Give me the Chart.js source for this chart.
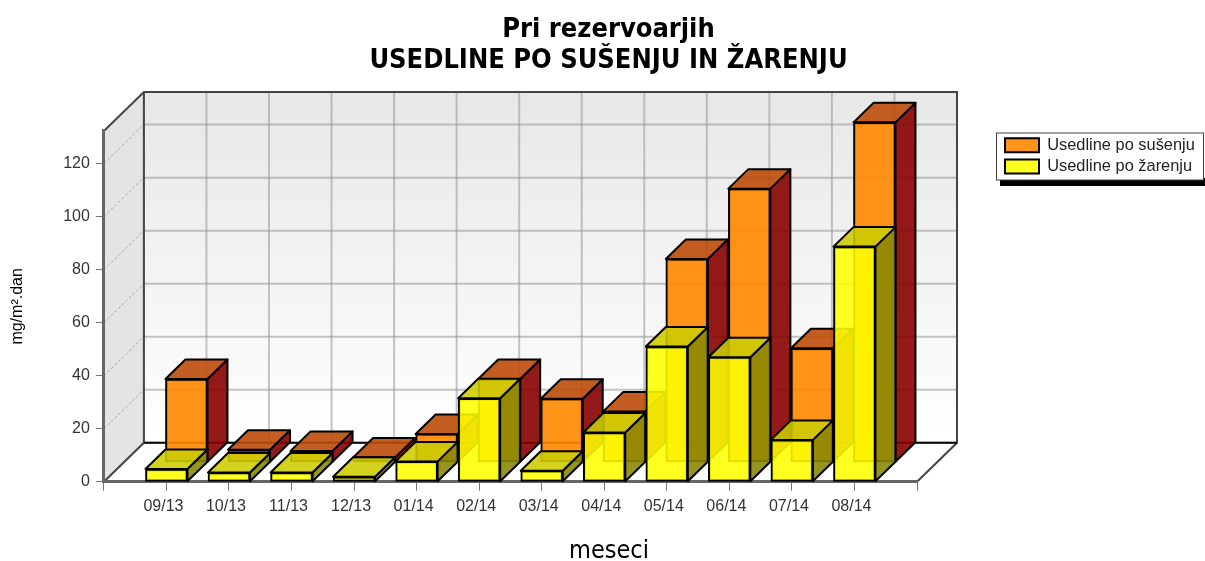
<!DOCTYPE html>
<html>
<head>
<meta charset="utf-8">
<style>
  html, body { margin: 0; padding: 0; background: #fff; overflow: hidden; }
  #wrap { width: 1205px; height: 561px; }
</style>
<script src="https://cdn.jsdelivr.net/npm/chart.js@4"></script>
</head>
<body>
<div id="wrap"><canvas id="chart" width="1205" height="561"></canvas></div>
<script>
const categories = ['', '09/13', '10/13', '11/13', '12/13', '01/14', '02/14', '03/14', '04/14', '05/14', '06/14', '07/14', '08/14', ''];
const susenje = [null, 31.4, 4.7, 4.3, 1.8, 10.7, 31.4, 24, 19.2, 76.7, 103.2, 43, 128.2, null];
const zarenje = [null, 4.8, 3.5, 3.5, 1.9, 7.7, 31.5, 4.2, 18.6, 51, 47, 15.8, 88.7, null];

// depth of the fake 3D box
const DEPTH_X = 40;
const DEPTH_Y = -39;

function face(ctx, pts, fill, stroke, width) {
    ctx.beginPath();
    pts.forEach((p, i) => i ? ctx.lineTo(p[0], p[1]) : ctx.moveTo(p[0], p[1]));
    ctx.closePath();
    if (fill) { ctx.fillStyle = fill; ctx.fill(); }
    if (stroke) { ctx.strokeStyle = stroke; ctx.lineWidth = width || 1; ctx.stroke(); }
}

const threeDPlugin = {
    id: 'threeD',
    // title, subtitle and legend don't sit where the layout engine wants them
    afterLayout(chart) {
        chart.titleBlock.left = 0;
        chart.titleBlock.right = 1217;
        const sub = chart.boxes.find(b => b.options && b.options.text === 'meseci');
        sub.left = 0;
        sub.right = 1218;
        sub.top += 5;
        sub.bottom += 5;
        const lg = chart.legend;
        lg.left = 1000;
        lg.right = lg.left + lg.width;
        lg.top = 132;
        lg.bottom = lg.top + lg.height;
    },
    // legend frame, walls, floor and grid: all under the axes and the bars
    beforeDraw(chart) {
        const { ctx, chartArea: a, scales } = chart;
        const bx = DEPTH_X, by = DEPTH_Y;
        ctx.save();

        ctx.fillStyle = '#000';
        ctx.fillRect(1000, 178, 205, 8);
        ctx.fillStyle = '#fff';
        ctx.strokeStyle = '#444';
        ctx.lineWidth = 1;
        ctx.fillRect(996.5, 133, 207, 47);
        ctx.strokeRect(996.5, 133, 207, 47);

        const grad = ctx.createLinearGradient(0, a.top + by, 0, a.bottom + by);
        grad.addColorStop(0, '#e7e7e7');
        grad.addColorStop(1, '#ffffff');
        face(ctx, [[a.left + bx, a.top + by], [a.right + bx, a.top + by], [a.right + bx, a.bottom + by], [a.left + bx, a.bottom + by]], grad);
        face(ctx, [[a.left, a.top], [a.left + bx, a.top + by], [a.left + bx, a.bottom + by], [a.left, a.bottom]], '#e4e4e4');
        face(ctx, [[a.left, a.bottom], [a.left + bx, a.bottom + by], [a.right + bx, a.bottom + by], [a.right, a.bottom]], '#ffffff');

        // back wall grid
        ctx.lineWidth = 2;
        ctx.strokeStyle = 'rgba(150,150,150,0.55)';
        scales.x.ticks.forEach((t, i) => {
            const x = scales.x.getPixelForTick(i) + bx;
            ctx.beginPath(); ctx.moveTo(x, a.top + by); ctx.lineTo(x, a.bottom + by); ctx.stroke();
        });
        scales.y.ticks.forEach((t, i) => {
            const y = scales.y.getPixelForTick(i) + by;
            ctx.beginPath(); ctx.moveTo(a.left + bx, y); ctx.lineTo(a.right + bx, y); ctx.stroke();
        });
        // side wall grid, dotted in the original
        ctx.strokeStyle = '#aaa';
        ctx.lineWidth = 1;
        ctx.setLineDash([3, 2]);
        scales.y.ticks.forEach((t, i) => {
            const y = scales.y.getPixelForTick(i);
            ctx.beginPath(); ctx.moveTo(a.left, y); ctx.lineTo(a.left + bx, y + by); ctx.stroke();
        });
        ctx.setLineDash([]);

        // frame
        ctx.strokeStyle = '#444';
        ctx.lineWidth = 2;
        ctx.beginPath();
        ctx.moveTo(a.left, a.top);
        ctx.lineTo(a.left + bx, a.top + by);
        ctx.lineTo(a.right + bx, a.top + by);
        ctx.lineTo(a.right + bx, a.bottom + by);
        ctx.lineTo(a.right, a.bottom);
        ctx.moveTo(a.left + bx, a.top + by);
        ctx.lineTo(a.left + bx, a.bottom + by);
        ctx.lineTo(a.left, a.bottom);
        ctx.stroke();
        ctx.strokeStyle = '#000';
        ctx.beginPath();
        ctx.moveTo(a.left + bx, a.bottom + by);
        ctx.lineTo(a.right + bx, a.bottom + by);
        ctx.stroke();
        ctx.restore();
    },
    // side and top faces go under the front face the library draws
    beforeDatasetDraw(chart, args) {
        const ds = chart.data.datasets[args.index];
        const { ctx } = chart;
        ctx.save();
        ctx.translate(ds.shiftX, ds.shiftY);
        ctx.lineJoin = 'round';
        args.meta.data.forEach((el, i) => {
            if (ds.data[i] === null) return;
            const l = el.x - el.width / 2, r = el.x + el.width / 2;
            const dx = DEPTH_X / 2, dy = DEPTH_Y / 2;
            face(ctx, [[r, el.y], [r + dx, el.y + dy], [r + dx, el.base + dy], [r, el.base]], ds.sideColor, '#000', 2);
            face(ctx, [[l, el.y], [l + dx, el.y + dy], [r + dx, el.y + dy], [r, el.y]], ds.topColor, '#000', 2);
        });
    },
    afterDatasetDraw(chart) {
        chart.ctx.restore();
    }
};

new Chart(document.getElementById('chart'), {
    type: 'bar',
    plugins: [threeDPlugin],
    data: {
        labels: categories,
        datasets: [
            {
                label: 'Usedline po sušenju',
                data: susenje,
                order: 2,
                clip: false,
                shiftX: DEPTH_X / 2,
                shiftY: DEPTH_Y / 2,
                backgroundColor: 'rgba(255,136,0,0.9)',
                sideColor: 'rgba(136,0,0,0.9)',
                topColor: 'rgba(190,75,10,0.9)'
            },
            {
                label: 'Usedline po žarenju',
                data: zarenje,
                order: 1,
                clip: false,
                shiftX: 0,
                shiftY: 0,
                backgroundColor: 'rgba(255,255,0,0.88)',
                sideColor: 'rgba(136,136,0,0.88)',
                topColor: 'rgba(204,204,0,0.88)'
            }
        ]
    },
    options: {
        responsive: false,
        animation: false,
        layout: { padding: { left: 8, right: 288, top: 14, bottom: 0 } },
        elements: {
            bar: { borderColor: '#000', borderWidth: 2, borderSkipped: false }
        },
        datasets: { bar: { barThickness: 42, grouped: false } },
        plugins: {
            tooltip: { enabled: false },
            title: {
                display: true,
                text: ['Pri rezervoarjih', 'USEDLINE PO SUŠENJU IN ŽARENJU'],
                color: '#000',
                font: { family: '"DejaVu Sans Condensed", "DejaVu Sans"', size: 27, weight: 'bold', lineHeight: 1.17 },
                padding: { top: 0, bottom: 53.8 }
            },
            subtitle: {
                display: true,
                position: 'bottom',
                text: 'meseci',
                color: '#000',
                font: { family: '"DejaVu Sans Condensed", "DejaVu Sans"', size: 25, weight: 'normal' },
                padding: { top: 9, bottom: 0 }
            },
            legend: {
                display: true,
                position: 'chartArea',
                align: 'start',
                labels: {
                    color: '#222',
                    boxWidth: 34,
                    boxHeight: 14,
                    font: { family: '"Liberation Sans"', size: 16.4 },
                    padding: 5,
                    sort: (a, b) => a.datasetIndex - b.datasetIndex
                }
            }
        },
        scales: {
            x: {
                offset: false,
                border: { color: '#666', width: 3 },
                grid: { offset: false, drawOnChartArea: false, drawTicks: true, tickLength: 9, color: '#777' },
                ticks: { color: '#333', font: { family: '"Liberation Sans"', size: 16 }, maxRotation: 0, autoSkip: false, padding: 6, labelOffset: -3 }
            },
            y: {
                min: 0,
                max: 132.3,
                border: { color: '#666', width: 3 },
                grid: { drawOnChartArea: false, drawTicks: true, tickLength: 8, color: '#777' },
                ticks: { stepSize: 20, includeBounds: false, color: '#333', font: { family: '"Liberation Sans"', size: 16 }, padding: 6 },
                title: {
                    display: true,
                    text: 'mg/m².dan',
                    color: '#000',
                    font: { family: '"Liberation Sans"', size: 16 },
                    padding: { top: 0, bottom: 30 }
                }
            }
        }
    }
});
</script>
</body>
</html>
